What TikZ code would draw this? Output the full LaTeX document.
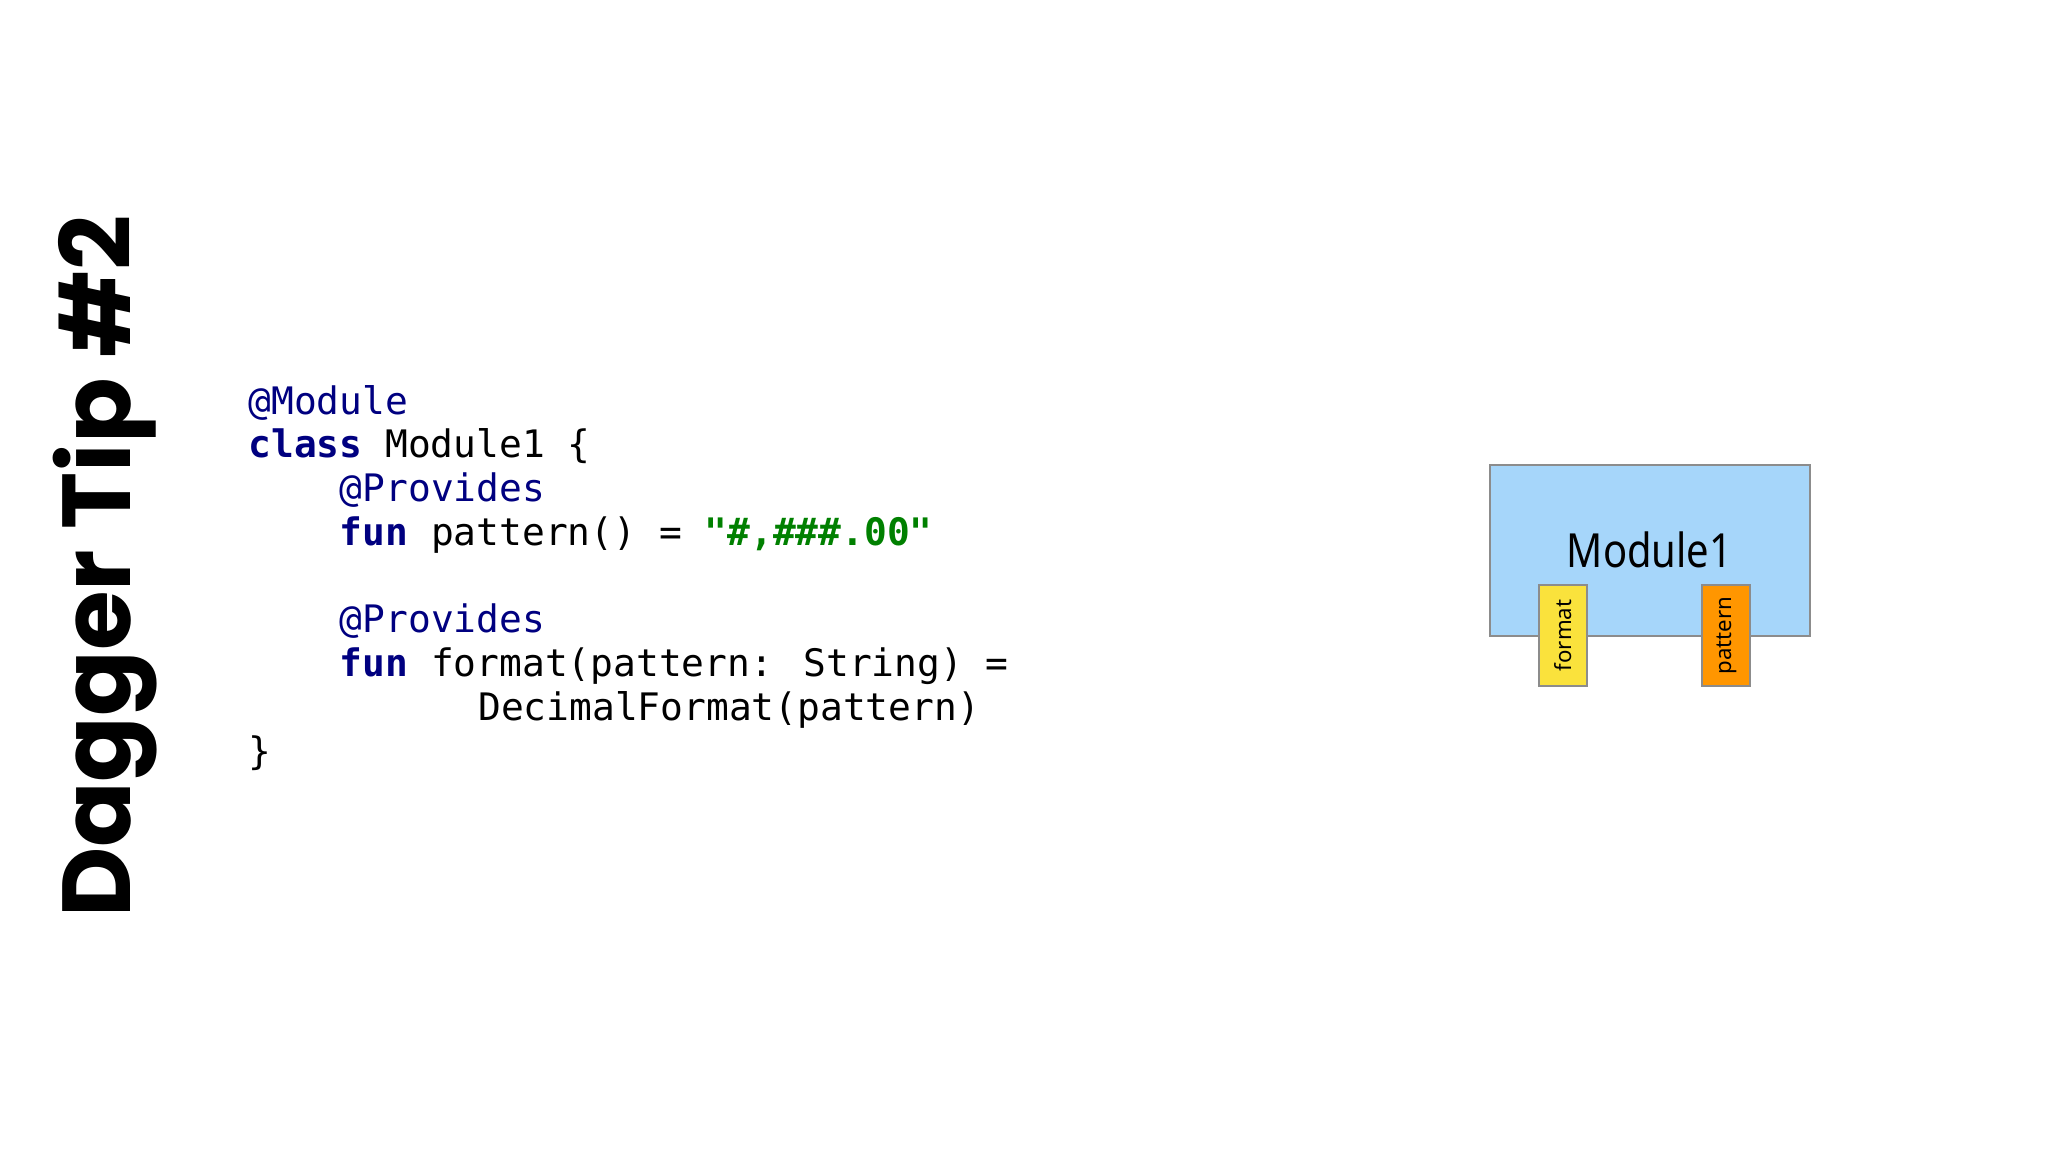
\documentclass[tikz,border=0pt]{standalone}
\usepackage{fontspec}
\setmainfont{Poppins}
\newfontfamily\codefont{DejaVu Sans Mono}
\newfontfamily\labfont{Noto Sans}
\definecolor{annot}{RGB}{0,0,128}
\definecolor{strg}{RGB}{0,128,0}
\definecolor{modfill}{RGB}{166,214,250}
\definecolor{boxedge}{RGB}{140,140,140}
\definecolor{fmtfill}{RGB}{250,226,60}
\definecolor{patfill}{RGB}{255,150,0}
\begin{document}
\begin{tikzpicture}[x=1pt,y=-1pt,
  code/.style={anchor=base west,inner sep=0pt,font=\codefont\fontsize{29}{33}\selectfont},
  slot/.style={draw=boxedge,line width=1.5pt}]
\useasboundingbox (0,0) rectangle (1568,882);
\node[rotate=90,anchor=base west,inner sep=0pt,font=\bfseries\fontsize{74}{80}\selectfont] (title) at (100,703) {Dagger Tip \#2};
\node[code,text=annot] (l1) at (190,317) {@Module};
\node[code] (l2) at (190,350.5) {\textcolor{annot}{\bfseries class} Module1 \{};
\node[code,text=annot] (l3) at (260,384) {@Provides};
\node[code] (l4) at (260,417.5) {\textcolor{annot}{\bfseries fun} pattern() = \textcolor{strg}{\bfseries "\#,\#\#\#.00"}};
\node[code,text=annot] (l5) at (260,484.5) {@Provides};
\node[code] (l6) at (260,518) {\textcolor{annot}{\bfseries fun} format(pattern: String) =};
\node[code] (l7) at (366,551.5) {DecimalFormat(pattern)};
\node[code] (l8) at (190,585) {\}};
\draw[slot,fill=modfill] (1141,356) rectangle (1386,487);
\node[font=\labfont\fontsize{36}{40}\selectfont,xscale=0.85] (mod) at (1263,421) {Module1};
\draw[slot,fill=fmtfill] (1178,448) rectangle (1215,525);
\draw[slot,fill=patfill] (1303,448) rectangle (1340,525);
\node[rotate=90,font=\labfont\fontsize{17}{18}\selectfont] (fmt) at (1197,486.5) {format};
\node[rotate=90,font=\labfont\fontsize{17}{18}\selectfont] (pat) at (1322,486.5) {pattern};
\end{tikzpicture}
\end{document}
